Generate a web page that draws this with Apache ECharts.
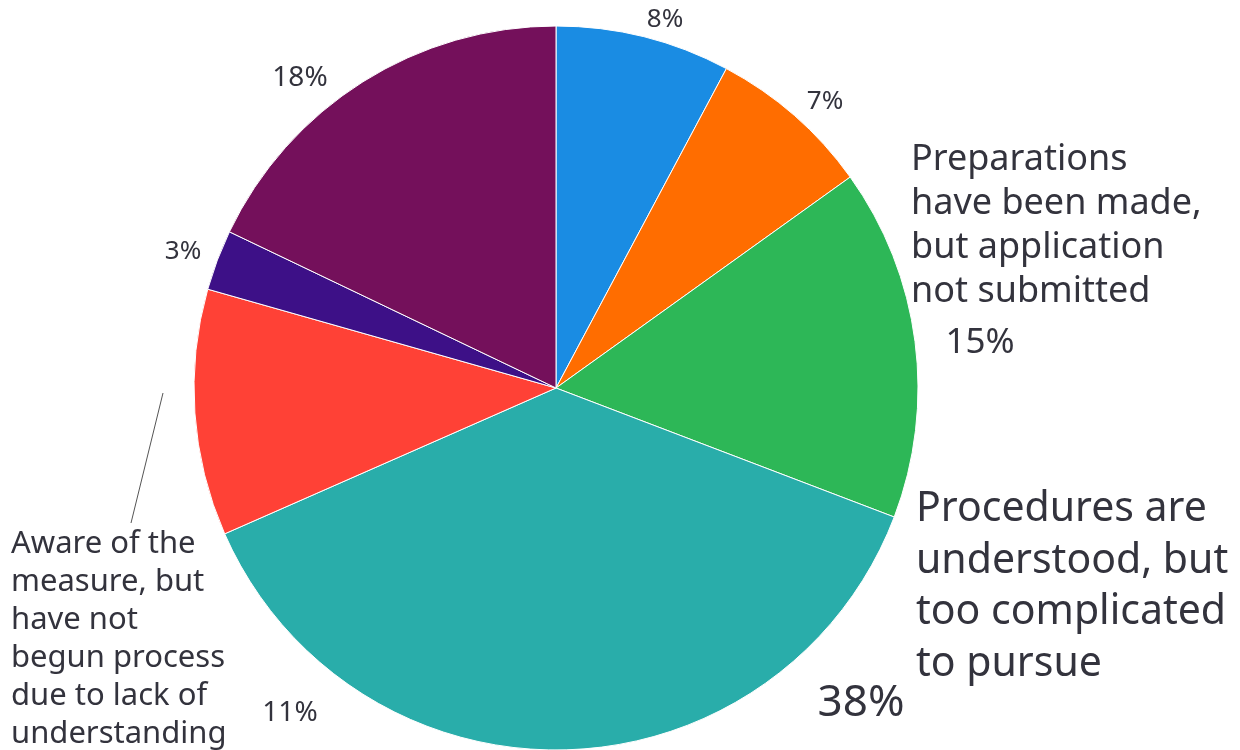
<!DOCTYPE html>
<html>
<head>
<meta charset="utf-8">
<script src="https://cdn.jsdelivr.net/npm/echarts@6/dist/echarts.min.js"></script>
<style>
  html, body { margin: 0; padding: 0; background: #fff; }
  #chart { width: 1240px; height: 750px; }
</style>
</head>
<body>
<div id="chart"></div>
<script>
// slices, clockwise from 12 o'clock
var categories = [
  'Other (8%)',
  'Other (7%)',
  'Preparations have been made, but application not submitted',
  'Procedures are understood, but too complicated to pursue',
  'Aware of the measure, but have not begun process due to lack of understanding',
  'Other (3%)',
  'Other (18%)'
];
var values = [7.8, 7.3, 15.7, 37.6, 11.0, 2.7, 17.9];
var pctLabels = ['8%', '7%', '15%', '38%', '11%', '3%', '18%'];
var colors = ['#1a8ce3', '#ff6d00', '#2db757', '#29adaa', '#ff4136', '#3d1087', '#74105b'];

// where the percent labels sit (x, y centre) and their size
var pctPos = [[665, 20], [825, 102], [980, 343], [861, 703], [290, 713], [183, 252], [300, 78]];
var pctSize = [26, 26, 35, 44, 28, 26, 28];

var textColor = '#33333d';
var font = '"Noto Sans", sans-serif';

var chart = echarts.init(document.getElementById('chart'));

var option = {
  animation: false,
  backgroundColor: '#fff',
  series: [{
    type: 'pie',
    center: [556, 388],
    radius: 362,
    startAngle: 90,
    clockwise: true,
    itemStyle: { borderColor: '#fff', borderWidth: 1 },
    label: {
      show: true,
      position: 'outside',
      color: textColor,
      fontFamily: font,
      formatter: function (p) { return pctLabels[p.dataIndex]; }
    },
    labelLine: { show: false },
    labelLayout: function (p) {
      var pos = pctPos[p.dataIndex];
      return { x: pos[0], y: pos[1], align: 'center', verticalAlign: 'middle' };
    },
    data: values.map(function (v, i) {
      return {
        value: v,
        name: categories[i],
        itemStyle: { color: colors[i] },
        label: { fontSize: pctSize[i] }
      };
    })
  }],
  graphic: [
    {
      type: 'text', left: 911, top: 138,
      style: {
        text: 'Preparations\nhave been made,\nbut application\nnot submitted',
        fill: textColor, font: '36px ' + font, lineHeight: 44
      }
    },
    {
      type: 'text', left: 916, top: 484,
      style: {
        text: 'Procedures are\nunderstood, but\ntoo complicated\nto pursue',
        fill: textColor, font: '41px ' + font, lineHeight: 51.5
      }
    },
    {
      type: 'text', left: 11, top: 525,
      style: {
        text: 'Aware of the\nmeasure, but\nhave not\nbegun process\ndue to lack of\nunderstanding',
        fill: textColor, font: '31px ' + font, lineHeight: 38
      }
    },
    {
      type: 'line',
      shape: { x1: 163, y1: 393, x2: 131, y2: 523 },
      style: { stroke: '#555', lineWidth: 1 }
    }
  ]
};

chart.setOption(option);
</script>
</body>
</html>
